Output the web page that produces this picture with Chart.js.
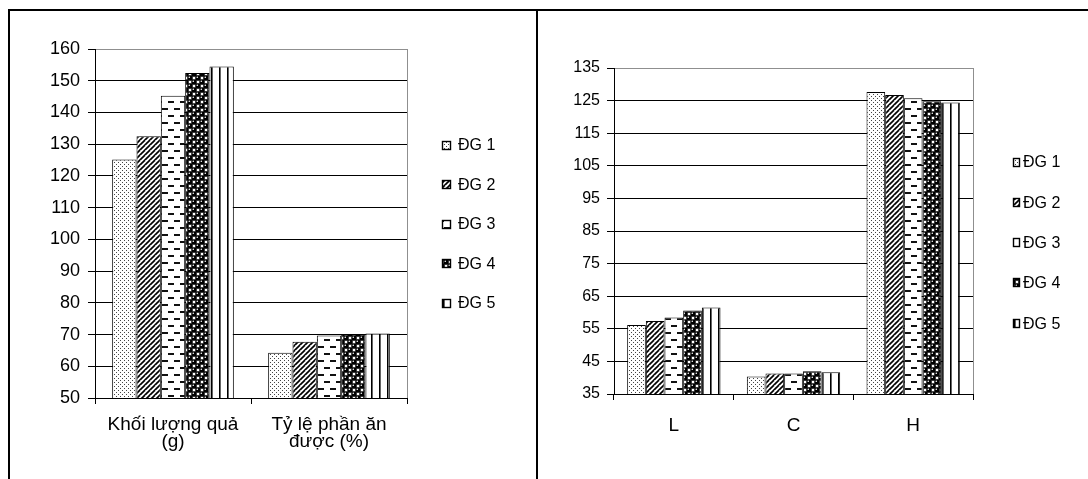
<!DOCTYPE html>
<html>
<head>
<meta charset="utf-8">
<script src="https://cdn.jsdelivr.net/npm/chart.js@4.4.1/dist/chart.umd.min.js"></script>
<style>
  html, body { margin: 0; padding: 0; background: #fff; }
  body { width: 1088px; height: 479px; position: relative; overflow: hidden; }
  .box { position: absolute; top: 0; height: 479px; }
  #leftBox { left: 0; width: 537px; }
  #rightBox { left: 539px; width: 549px; }
  .rule { position: absolute; background: #000; z-index: 5; }
</style>
</head>
<body>
<div class="rule" style="left:8px; top:9px; width:1080px; height:2px;"></div>
<div class="rule" style="left:8px; top:9px; width:2px; height:470px;"></div>
<div class="rule" style="left:536px; top:9px; width:2px; height:470px;"></div>
<div class="box" id="leftBox"><canvas id="leftChart"></canvas></div>
<div class="box" id="rightBox"><canvas id="rightChart"></canvas></div>
<script>
// Series names shared by both panels
const seriesNames = ["ĐG 1", "ĐG 2", "ĐG 3", "ĐG 4", "ĐG 5"];

// Left panel: fruit weight and edible portion
const leftCategories = [["Khối lượng quả", "(g)"], ["Tỷ lệ phần ăn", "được (%)"]];
const leftDG1 = [125.2, 64.3];
const leftDG2 = [132.5, 67.7];
const leftDG3 = [145.3, 69.7];
const leftDG4 = [152.4, 70.2];
const leftDG5 = [154.5, 70.3];
const leftTicks = { min: 50, max: 160, step: 10 };

// Right panel: colour values L, C, H
const rightCategories = ["L", "C", "H"];
const rightDG1 = [56.2, 40.4, 127.6];
const rightDG2 = [57.4, 41.3, 126.7];
const rightDG3 = [58.5, 41.3, 125.7];
const rightDG4 = [60.6, 42.0, 124.8];
const rightDG5 = [61.5, 41.7, 124.4];
const rightTicks = { min: 35, max: 135, step: 10 };

// ---- fill patterns (black & white print style) ----
function tile(w, h, paint) {
  const c = document.createElement('canvas');
  c.width = w; c.height = h;
  const g = c.getContext('2d');
  g.fillStyle = '#fff';
  g.fillRect(0, 0, w, h);
  paint(g, w, h);
  return document.createElement('canvas').getContext('2d').createPattern(c, 'repeat');
}
const patterns = [
  // fine stipple
  tile(4, 4, g => {
    g.fillStyle = '#444';
    g.fillRect(0, 0, 1, 1);
    g.fillRect(2, 2, 1, 1);
  }),
  // dark upward diagonal
  tile(5, 5, g => {
    g.strokeStyle = '#000';
    g.lineWidth = 1.7;
    for (let k = -1; k <= 2; k++) {
      g.beginPath();
      g.moveTo(k * 5 - 5, 10);
      g.lineTo(k * 5 + 5, 0);
      g.stroke();
    }
  }),
  // staggered short dashes
  tile(12, 14, g => {
    g.fillStyle = '#111';
    g.fillRect(0, 3, 6, 2);
    g.fillRect(6, 10, 6, 2);
  }),
  // spheres
  tile(8, 8, g => {
    g.fillStyle = '#000';
    const balls = [[2, 2], [6, 6], [-2, 6], [6, -2], [10, 6], [6, 10]];
    balls.forEach(([x, y]) => { g.beginPath(); g.arc(x, y, 2.7, 0, Math.PI * 2); g.fill(); });
    g.strokeStyle = '#000';
    g.lineWidth = 0.9;
    [[6, 2], [2, 6], [-2, 2], [2, -2], [10, 2], [2, 10]].forEach(([x, y]) => {
      g.beginPath(); g.arc(x, y, 2.3, 0, Math.PI * 2); g.stroke();
    });
    g.fillStyle = '#fff';
    [[1.3, 1.3], [5.3, 5.3]].forEach(([x, y]) => { g.beginPath(); g.arc(x, y, 0.8, 0, Math.PI * 2); g.fill(); });
  }),
  // wide vertical stripes
  tile(8, 4, g => {
    g.fillStyle = '#000';
    g.fillRect(3, 0, 1.6, 4);
  })
];

// ---- plugins ----
// grey outline on the right side of the plot area
const plotEdge = {
  id: 'plotEdge',
  afterDatasetsDraw(chart) {
    const { ctx, chartArea: a } = chart;
    ctx.save();
    ctx.strokeStyle = '#8f8f8f';
    ctx.lineWidth = 1;
    ctx.beginPath();
    ctx.moveTo(Math.round(a.right) + 0.5, a.top);
    ctx.lineTo(Math.round(a.right) + 0.5, a.bottom);
    ctx.stroke();
    ctx.restore();
  }
};

// vertical legend list placed beside the plot
const sideLegend = {
  id: 'sideLegend',
  afterDraw(chart, args, o) {
    const ctx = chart.ctx;
    ctx.save();
    chart.data.datasets.forEach((ds, i) => {
      const y = o.top + i * o.step;
      const by = Math.round(y - o.boxH / 2);
      ctx.fillStyle = ds.backgroundColor;
      ctx.fillRect(o.x, by, o.boxW, o.boxH);
      ctx.strokeStyle = '#000';
      ctx.lineWidth = 1.4;
      ctx.strokeRect(o.x + 0.5, by + 0.5, o.boxW - 1, o.boxH - 1);
      ctx.fillStyle = '#000';
      ctx.font = o.font;
      ctx.textBaseline = 'middle';
      ctx.textAlign = 'left';
      ctx.fillText(ds.label, o.textX, y + 1);
    });
    ctx.restore();
  }
};

function makeDatasets(rows) {
  return rows.map((values, i) => ({
    label: seriesNames[i],
    data: values,
    backgroundColor: patterns[i],
    borderColor: '#000',
    borderWidth: 1,
    borderSkipped: 'bottom',
    categoryPercentage: 0.78,
    barPercentage: 1.0
  }));
}

function makeChart(id, cfg) {
  const box = document.getElementById(id).parentNode;
  const canvas = document.getElementById(id);
  canvas.width = box.clientWidth;
  canvas.height = box.clientHeight;
  return new Chart(canvas, {
    type: 'bar',
    data: { labels: cfg.labels, datasets: makeDatasets(cfg.rows) },
    plugins: [plotEdge, sideLegend],
    options: {
      responsive: false,
      animation: false,
      devicePixelRatio: 1,
      layout: { padding: cfg.padding },
      plugins: {
        legend: { display: false },
        tooltip: { enabled: false },
        sideLegend: cfg.legend
      },
      scales: {
        x: {
          afterFit: s => { s.height = cfg.xHeight; },
          grid: {
            offset: true,
            drawOnChartArea: false,
            drawTicks: true,
            tickLength: 6,
            tickColor: '#000',
            color: '#000'
          },
          border: { display: true, color: '#000', width: 1 },
          ticks: {
            color: '#000',
            padding: cfg.xPad,
            maxRotation: 0,
            autoSkip: false,
            font: cfg.xFont
          }
        },
        y: {
          min: cfg.ticks.min,
          max: cfg.ticks.max,
          afterFit: s => { s.width = cfg.yWidth; },
          grid: {
            color: c => (c.tick && c.tick.value === cfg.ticks.max ? '#8f8f8f' : '#000'),
            tickColor: '#000',
            tickLength: 7,
            lineWidth: 1
          },
          border: { display: true, color: '#000', width: 1 },
          ticks: {
            stepSize: cfg.ticks.step,
            color: '#000',
            padding: cfg.yPad,
            font: cfg.yFont
          }
        }
      }
    }
  });
}

const baseFont = "'Liberation Sans', Arial, sans-serif";

makeChart('leftChart', {
  labels: leftCategories,
  rows: [leftDG1, leftDG2, leftDG3, leftDG4, leftDG5],
  ticks: leftTicks,
  padding: { left: 0, right: 130, top: 49, bottom: 0 },
  yWidth: 95,
  xHeight: 81,
  xPad: 12,
  yPad: 8,
  xFont: { family: baseFont, size: 19, lineHeight: 0.92 },
  yFont: { family: baseFont, size: 18 },
  legend: { x: 442, boxW: 9, boxH: 9, textX: 458, top: 145, step: 39.5, font: "16px " + baseFont }
});

makeChart('rightChart', {
  labels: rightCategories,
  rows: [rightDG1, rightDG2, rightDG3, rightDG4, rightDG5],
  ticks: rightTicks,
  padding: { left: 0, right: 115, top: 68, bottom: 0 },
  yWidth: 75,
  xHeight: 85,
  xPad: 14,
  yPad: 7,
  xFont: { family: baseFont, size: 19 },
  yFont: { family: baseFont, size: 16 },
  legend: { x: 474, boxW: 7, boxH: 9, textX: 484, top: 162, step: 40.3, font: "16px " + baseFont }
});
</script>
</body>
</html>
